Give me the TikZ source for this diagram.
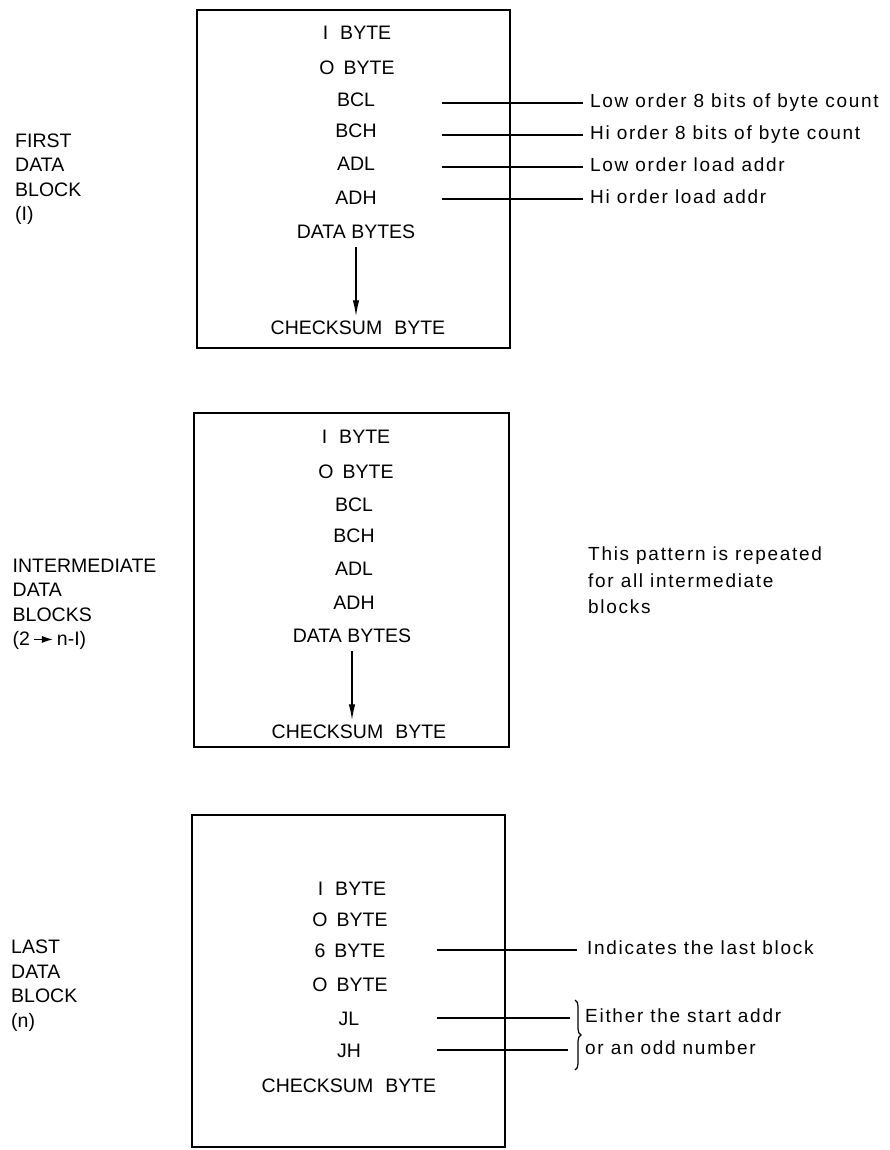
\documentclass[tikz,border=0pt]{standalone}
\usepackage{fontspec}
\setmainfont{Liberation Sans}
\newfontfamily\lblfam[LetterSpace=9]{Liberation Sans}
\newcommand{\boxfont}{\fontsize{19.5pt}{24.5pt}\selectfont}
\newcommand{\lblfont}{\lblfam\fontsize{19pt}{26.5pt}\selectfont}
\usetikzlibrary{arrows.meta,decorations.pathreplacing}
\begin{document}
\begin{tikzpicture}[x=1pt,y=-1pt,
  blk/.style={draw,line width=1.8pt,inner sep=0pt,minimum width=#1},
  itm/.style={inner sep=0pt,text height=14pt,text depth=0pt,font=\boxfont},
  side/.style={inner sep=0pt,anchor=north west,align=left,font=\boxfont},
  lbl/.style={inner sep=0pt,anchor=west,text height=13.6pt,text depth=0pt,font=\lblfont},
  note/.style={inner sep=0pt,anchor=north west,align=left,font=\lblfont},
  lead/.style={line width=1.3pt},
  flow/.style={line width=1.3pt,-{Latex[length=16pt,width=6.5pt]},shorten <=8pt,shorten >=4pt},
  curly/.style={line width=1.2pt,decorate,decoration={brace,amplitude=6pt}}]
\useasboundingbox (0,0) rectangle (890,1150);

% ---------- boxes ----------
\node[blk=313pt,minimum height=338pt] (b1) at (353.5,179) {};
\node[blk=315pt,minimum height=334pt] (b2) at (351.5,580) {};
\node[blk=313pt,minimum height=332pt] (b3) at (348.5,981) {};

% ---------- left labels ----------
\node[side] (s1) at (15,133.5) {FIRST\\DATA\\BLOCK\\(I)};
\node[side] (s2) at (12.5,558.5) {INTERMEDIATE\\DATA\\BLOCKS\\(2\,\tikz[baseline=-0.6ex]\draw[line width=1.4pt,-{Latex[length=11pt,width=7pt]}] (0pt,0pt)--(19pt,0pt);\,n-I)};
\node[side] (s3) at (11,940) {LAST\\DATA\\BLOCK\\(n)};

% ---------- first block ----------
\node[itm] (a1) at (357,32.5) {I\hspace{12pt}BYTE};
\node[itm] (a2) at (357,67.5) {O\hspace{9pt}BYTE};
\node[itm] (a3) at (356,100) {BCL};
\node[itm] (a4) at (356,131) {BCH};
\node[itm] (a5) at (356,164) {ADL};
\node[itm] (a6) at (356,198) {ADH};
\node[itm] (a7) at (356,231.5) {DATA BYTES};
\node[itm] (a8) at (358,327.5) {CHECKSUM\hspace{12pt}BYTE};
\draw[flow] (a7.south) -- (a7.south |- a8.north);

\coordinate (p3) at (442,103);
\coordinate (p4) at (442,135);
\coordinate (p5) at (442,167);
\coordinate (p6) at (442,199);
\node[lbl] (l3) at (590,101) {Low order 8 bits of byte count};
\node[lbl] (l4) at (590,133) {Hi order 8 bits of byte count};
\node[lbl] (l5) at (590,165) {Low order load addr};
\node[lbl] (l6) at (590,197) {Hi order load addr};
\draw[lead] (p3) -- ([xshift=-7pt]p3 -| l3.west);
\draw[lead] (p4) -- ([xshift=-7pt]p4 -| l4.west);
\draw[lead] (p5) -- ([xshift=-7pt]p5 -| l5.west);
\draw[lead] (p6) -- ([xshift=-7pt]p6 -| l6.west);

% ---------- intermediate blocks ----------
\node[itm] (c1) at (356,436.5) {I\hspace{12pt}BYTE};
\node[itm] (c2) at (356,471.5) {O\hspace{9pt}BYTE};
\node[itm] (c3) at (354,504) {BCL};
\node[itm] (c4) at (354,535) {BCH};
\node[itm] (c5) at (354,568) {ADL};
\node[itm] (c6) at (354,602) {ADH};
\node[itm] (c7) at (352,635.5) {DATA BYTES};
\node[itm] (c8) at (359,731.5) {CHECKSUM\hspace{12pt}BYTE};
\draw[flow] (c7.south) -- (c7.south |- c8.north);

\node[note] (n2) at (588,547) {This pattern is repeated\\for all intermediate\\blocks};

% ---------- last block ----------
\node[itm] (e1) at (352,888.5) {I\hspace{12pt}BYTE};
\node[itm] (e2) at (350,919) {O\hspace{9pt}BYTE};
\node[itm] (e3) at (350,950) {6\hspace{9pt}BYTE};
\node[itm] (e4) at (350,984) {O\hspace{9pt}BYTE};
\node[itm] (e5) at (349,1018.5) {JL};
\node[itm] (e6) at (349,1050.5) {JH};
\node[itm] (e7) at (349,1085.5) {CHECKSUM\hspace{12pt}BYTE};

\coordinate (q3) at (437,950);
\coordinate (q5) at (437,1018);
\coordinate (q6) at (437,1050);
\node[lbl] (m3) at (587,948) {Indicates the last block};
\node[lbl] (m5) at (585,1016) {Either the start addr};
\node[lbl] (m6) at (585,1048) {or an odd number};
\draw[lead] (q3) -- ([xshift=-10pt]q3 -| m3.west);
\draw[lead] (q5) -- ([xshift=-15pt]q5 -| m5.west);
\draw[lead] (q6) -- ([xshift=-17pt]q6 -| m6.west);
\coordinate (br1) at (575,1000);
\coordinate (br2) at (575,1070);
\draw[curly] (br1) -- (br2);
\end{tikzpicture}
\end{document}
